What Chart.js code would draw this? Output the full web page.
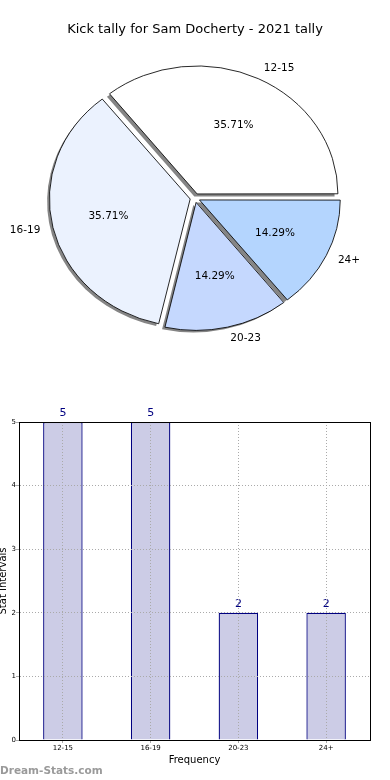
<!DOCTYPE html>
<html>
<head>
<meta charset="utf-8">
<script src="https://cdn.jsdelivr.net/npm/chart.js@4/dist/chart.umd.min.js"></script>
<style>
  body { margin: 0; width: 390px; height: 780px; background: #fff; overflow: hidden; position: relative; font-family: "DejaVu Sans", sans-serif; }
  #pieWrap { position: absolute; left: 0; top: 0; width: 390px; height: 396px; }
  #barWrap { position: absolute; left: -3px; top: 390px; width: 393px; height: 390px; }
  #mark { position: absolute; left: 0; top: 764px; font: bold 10.5px "DejaVu Sans", sans-serif; color: #9a9a9a; }
</style>
</head>
<body>
<div id="pieWrap"><canvas id="pieChart"></canvas></div>
<div id="barWrap"><canvas id="barChart"></canvas></div>
<div id="mark">Dream-Stats.com</div>
<script>
// Kick tally data
const chartTitle = 'Kick tally for Sam Docherty - 2021 tally';
const categories = ['12-15', '16-19', '20-23', '24+'];
const kicks = [5, 5, 2, 2];
const sliceColors = ['#ffffff', '#ebf2fe', '#c5d8fe', '#b4d5fe'];
const yTicks = [0, 1, 2, 3, 4, 5];

Chart.defaults.font.family = '"DejaVu Sans", sans-serif';
Chart.defaults.color = '#000';

const stretchX = 1.1; // pie is drawn a bit wider than tall
const total = kicks.reduce((a, b) => a + b, 0);

function stretch(ctx, x, y) {
    ctx.translate(x, y);
    ctx.scale(stretchX, 1);
    ctx.translate(-x, -y);
}

// arc offset is moved by offset/4 in chart.js v4
function sliceShift(arc) {
    return (arc.options.offset || 0) / 4;
}

// stretch + drop shadow for the pie, then the labels
const piePlugin = {
    id: 'pieExtras',
    beforeDatasetsDraw(chart) {
        const ctx = chart.ctx;
        const arcs = chart.getDatasetMeta(0).data;
        const x0 = arcs[0].x, y0 = arcs[0].y;
        // shadows first
        ctx.save();
        ctx.translate(-2.8, 2.6);
        stretch(ctx, x0, y0);
        ctx.fillStyle = '#858585';
        arcs.forEach(arc => {
            const mid = (arc.startAngle + arc.endAngle) / 2;
            const s = sliceShift(arc);
            const cx = arc.x + s * Math.cos(mid);
            const cy = arc.y + s * Math.sin(mid);
            ctx.beginPath();
            ctx.moveTo(cx, cy);
            ctx.arc(cx, cy, arc.outerRadius + 0.5, arc.startAngle, arc.endAngle);
            ctx.closePath();
            ctx.fill();
        });
        ctx.restore();
        ctx.save();
        stretch(ctx, x0, y0);
    },
    afterDatasetsDraw(chart) {
        const ctx = chart.ctx;
        ctx.restore();
        const meta = chart.getDatasetMeta(0);
        const labels = chart.data.labels;
        const values = chart.data.datasets[0].data;
        ctx.save();
        ctx.fillStyle = '#000';
        ctx.textBaseline = 'middle';
        ctx.font = '10.5px "DejaVu Sans", sans-serif';
        meta.data.forEach((arc, i) => {
            const mid = (arc.startAngle + arc.endAngle) / 2;
            const s = sliceShift(arc);
            const r = arc.outerRadius;
            const cx = arc.x + s * Math.cos(mid) * stretchX;
            const cy = arc.y + s * Math.sin(mid);
            const pct = (values[i] / total * 100).toFixed(2) + '%';
            ctx.textAlign = 'center';
            ctx.fillText(pct, cx + 0.6 * r * Math.cos(mid) * stretchX, cy + 0.6 * r * Math.sin(mid));
            ctx.textAlign = Math.cos(mid) > 0 ? 'left' : 'right';
            ctx.fillText(labels[i], cx + 1.1 * r * Math.cos(mid) * stretchX, cy + 1.1 * r * Math.sin(mid));
        });
        ctx.font = '13px "DejaVu Sans", sans-serif';
        ctx.textAlign = 'center';
        ctx.fillText(chartTitle, 195, 30);
        ctx.restore();
    }
};

// library draws clockwise from the top, the reference goes anticlockwise from 3 o'clock
new Chart(document.getElementById('pieChart'), {
    type: 'pie',
    data: {
        labels: categories.slice().reverse(),
        datasets: [{
            data: kicks.slice().reverse(),
            backgroundColor: sliceColors.slice().reverse(),
            borderColor: '#000',
            borderWidth: 0.8,
            offset: 18,
            radius: 127
        }]
    },
    options: {
        responsive: true,
        maintainAspectRatio: false,
        animation: false,
        events: [],
        rotation: 90,
        layout: { padding: 0 },
        plugins: {
            legend: { display: false },
            tooltip: { enabled: false }
        }
    },
    plugins: [piePlugin]
});

// box round the plot area and value labels over the bars
const barPlugin = {
    id: 'barExtras',
    afterDatasetsDraw(chart) {
        const ctx = chart.ctx;
        const meta = chart.getDatasetMeta(0);
        const values = chart.data.datasets[0].data;
        ctx.save();
        ctx.fillStyle = '#000080';
        ctx.font = '11px "DejaVu Sans", sans-serif';
        ctx.textAlign = 'center';
        ctx.textBaseline = 'middle';
        meta.data.forEach((bar, i) => {
            ctx.fillText(String(values[i]), bar.x, bar.y - 9);
        });
        ctx.restore();
    },
    afterDraw(chart) {
        const a = chart.chartArea;
        const ctx = chart.ctx;
        ctx.save();
        ctx.strokeStyle = '#000';
        ctx.lineWidth = 1;
        ctx.strokeRect(Math.round(a.left) + 0.5, Math.round(a.top) + 0.5,
            Math.round(a.right - a.left), Math.round(a.bottom - a.top));
        ctx.restore();
    }
};

new Chart(document.getElementById('barChart'), {
    type: 'bar',
    data: {
        labels: categories,
        datasets: [{
            data: kicks,
            backgroundColor: 'rgb(204, 204, 230)',
            borderColor: '#000080',
            borderWidth: 1.3,
            barPercentage: 0.45,
            categoryPercentage: 1
        }]
    },
    options: {
        responsive: true,
        maintainAspectRatio: false,
        animation: false,
        events: [],
        layout: { padding: { top: 32, right: 20, left: 0, bottom: 0 } },
        plugins: {
            legend: { display: false },
            tooltip: { enabled: false }
        },
        scales: {
            x: {
                offset: true,
                grid: { z: 1, offset: false, color: '#aaaaaa', lineWidth: 1, tickLength: 3, tickColor: '#aaaaaa' },
                border: { z: 1, color: '#000', width: 1, dash: [1, 2] },
                ticks: { font: { size: 7 }, padding: 1, color: '#000' },
                title: { display: true, text: 'Frequency', font: { size: 10 }, padding: { top: 0, bottom: 14 } },
                afterFit(scale) { scale.height = 40; }
            },
            y: {
                min: 0,
                max: 5,
                afterBuildTicks(scale) { scale.ticks = yTicks.map(v => ({ value: v })); },
                grid: { z: 1, color: '#aaaaaa', lineWidth: 1, tickLength: 3, tickColor: '#aaaaaa' },
                border: { z: 1, color: '#000', width: 1, dash: [1, 2] },
                ticks: { font: { size: 7 }, padding: 0, color: '#000' },
                title: { display: true, text: 'Stat Intervals', font: { size: 10 }, padding: 0 },
                afterFit(scale) { scale.width = 22; }
            }
        }
    },
    plugins: [barPlugin]
});
</script>
</body>
</html>
